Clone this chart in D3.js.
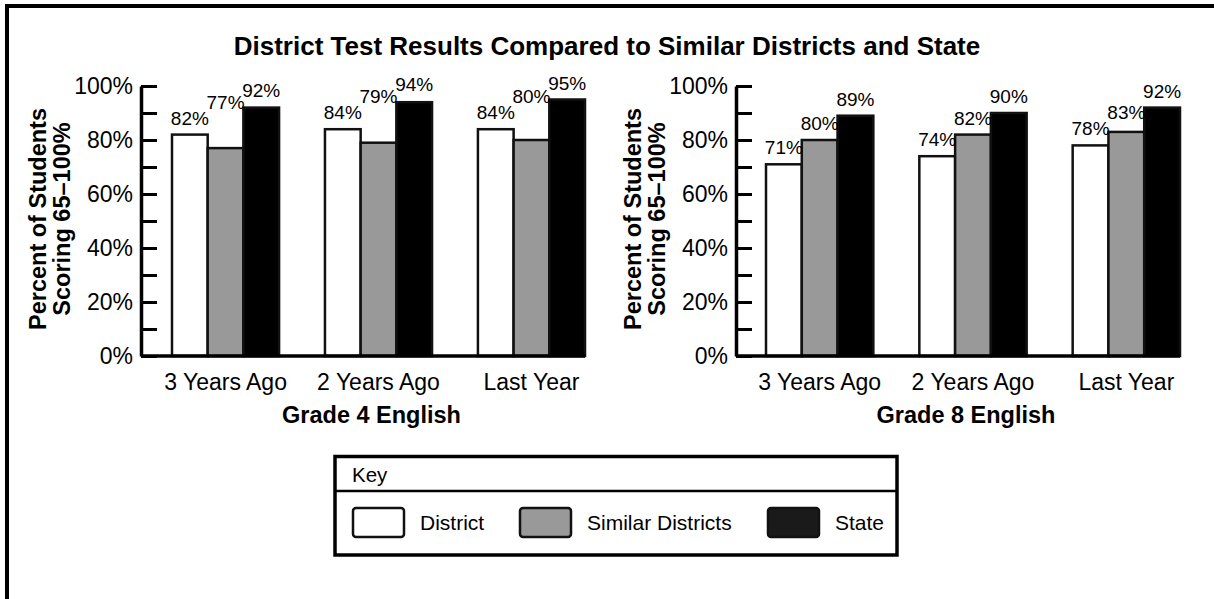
<!DOCTYPE html>
<html>
<head>
<meta charset="utf-8">
<script src="https://cdn.jsdelivr.net/npm/d3@7/dist/d3.min.js"></script>
<style>
  html, body { margin: 0; padding: 0; background: #fff; }
  svg { display: block; font-family: "Liberation Sans", Arial, Helvetica, sans-serif; }
</style>
</head>
<body>
<svg width="1214" height="599"></svg>
<script>
var categories = ["3 Years Ago", "2 Years Ago", "Last Year"];
var seriesNames = ["District", "Similar Districts", "State"];

var grade4District = [82, 84, 84];
var grade4Similar = [77, 79, 80];
var grade4State = [92, 94, 95];

var grade8District = [71, 74, 78];
var grade8Similar = [80, 82, 83];
var grade8State = [89, 90, 92];

var yTicks = [0, 10, 20, 30, 40, 50, 60, 70, 80, 90, 100];
var barFills = ["#ffffff", "#999999", "#000000"];
var keyFills = ["#ffffff", "#999999", "#1a1a1a"];

var svg = d3.select('svg');

svg.append('rect')
    .attr('width', 1214)
    .attr('height', 599)
    .attr('fill', '#fff');

// outer frame (top and left edges only are visible)
svg.append('path')
    .attr('d', 'M7,599V6H1214')
    .attr('fill', 'none')
    .attr('stroke', '#000')
    .attr('stroke-width', 4);

svg.append('text')
    .attr('x', 607)
    .attr('y', 55)
    .attr('text-anchor', 'middle')
    .attr('font-size', 26)
    .attr('font-weight', 'bold')
    .text('District Test Results Compared to Similar Districts and State');

var y = d3.scaleLinear().domain([0, 100]).range([356, 86]);

function drawPanel(p) {
    var g = svg.append('g');

    var x = d3.scaleBand()
        .domain(categories)
        .range([p.barStart, p.barEnd])
        .paddingInner(0.3)
        .paddingOuter(0);

    var xs = d3.scaleBand()
        .domain(seriesNames)
        .range([0, x.bandwidth()]);

    var rows = [];
    categories.forEach(function(c, i) {
        seriesNames.forEach(function(s, j) {
            rows.push({cat: c, ser: s, j: j, v: p.values[j][i]});
        });
    });

    g.selectAll('rect.bar')
        .data(rows)
        .join('rect')
        .attr('class', 'bar')
        .attr('x', d => x(d.cat) + xs(d.ser))
        .attr('y', d => y(d.v))
        .attr('width', xs.bandwidth())
        .attr('height', d => y(0) - y(d.v))
        .attr('fill', d => barFills[d.j])
        .attr('stroke', '#111')
        .attr('stroke-width', 2.5);

    // value labels, lifted when a neighbour's label sits too close
    var prev = {};
    rows.forEach(function(d) {
        var base = y(d.v) - 10;
        if (d.j > 0) base = Math.min(base, prev[d.cat] - (d.j === 1 ? 16 : 12));
        prev[d.cat] = base;
        d.ly = base;
    });

    g.selectAll('text.val')
        .data(rows)
        .join('text')
        .attr('class', 'val')
        .attr('x', d => x(d.cat) + xs(d.ser) + xs.bandwidth() / 2)
        .attr('y', d => d.ly)
        .attr('text-anchor', 'middle')
        .attr('font-size', 19)
        .text(d => d.v + '%');

    // y axis with inward ticks
    var yAxis = g.append('g')
        .attr('transform', 'translate(' + p.axisX + ',0)')
        .call(d3.axisLeft(y)
            .tickValues(yTicks)
            .tickSizeInner(-16)
            .tickSizeOuter(0)
            .tickPadding(8)
            .tickFormat(d => d % 20 === 0 ? d + '%' : ''));
    yAxis.select('.domain').attr('stroke', '#000').attr('stroke-width', 3.5);
    yAxis.selectAll('.tick line').attr('stroke', '#000').attr('stroke-width', 3);
    yAxis.selectAll('.tick text')
        .attr('font-size', 23)
        .attr('fill', '#000');
    yAxis.attr('font-family', null).attr('font-size', null);

    // baseline
    g.append('line')
        .attr('x1', p.axisX)
        .attr('x2', p.barEnd)
        .attr('y1', y(0))
        .attr('y2', y(0))
        .attr('stroke', '#000')
        .attr('stroke-width', 3.5);

    var xAxis = g.append('g')
        .attr('transform', 'translate(0,' + y(0) + ')')
        .call(d3.axisBottom(x).tickSize(0).tickPadding(0));
    xAxis.select('.domain').remove();
    xAxis.attr('font-family', null).attr('font-size', null);
    xAxis.selectAll('.tick text')
        .attr('y', 34)
        .attr('dy', 0)
        .attr('font-size', 23)
        .attr('fill', '#000');

    g.append('text')
        .attr('x', (p.barStart + p.barEnd) / 2 - 7)
        .attr('y', 423)
        .attr('text-anchor', 'middle')
        .attr('font-size', 23.5)
        .attr('font-weight', 'bold')
        .text(p.title);

    var yTitle = g.append('text')
        .attr('transform', 'translate(' + (p.axisX - 95) + ',219) rotate(-90)')
        .attr('text-anchor', 'middle')
        .attr('font-size', 23.5)
        .attr('font-weight', 'bold');
    yTitle.append('tspan').attr('x', 0).attr('y', 0).text('Percent of Students');
    yTitle.append('tspan').attr('x', 0).attr('y', 24).text('Scoring 65\u2013100%');
}

drawPanel({
    axisX: 141, barStart: 172, barEnd: 585,
    title: 'Grade 4 English',
    values: [grade4District, grade4Similar, grade4State]
});

drawPanel({
    axisX: 736, barStart: 766, barEnd: 1180,
    title: 'Grade 8 English',
    values: [grade8District, grade8Similar, grade8State]
});

// key
var key = svg.append('g');
key.append('rect')
    .attr('x', 335)
    .attr('y', 456.5)
    .attr('width', 562)
    .attr('height', 98.5)
    .attr('fill', '#fff')
    .attr('stroke', '#000')
    .attr('stroke-width', 3.5);
key.append('line')
    .attr('x1', 335).attr('x2', 897)
    .attr('y1', 491).attr('y2', 491)
    .attr('stroke', '#000')
    .attr('stroke-width', 2.5);
key.append('text')
    .attr('x', 352)
    .attr('y', 482)
    .attr('font-size', 20.5)
    .text('Key');

var keyX = d3.scaleOrdinal().domain(seriesNames).range([353, 520, 768]);

key.selectAll('rect.swatch')
    .data(seriesNames)
    .join('rect')
    .attr('class', 'swatch')
    .attr('x', d => keyX(d))
    .attr('y', 508)
    .attr('width', 51)
    .attr('height', 29)
    .attr('rx', 3)
    .attr('fill', (d, i) => keyFills[i])
    .attr('stroke', '#111')
    .attr('stroke-width', 2.5);

key.selectAll('text.item')
    .data(seriesNames)
    .join('text')
    .attr('class', 'item')
    .attr('x', d => keyX(d) + 67)
    .attr('y', 530)
    .attr('font-size', 21)
    .text(d => d);
</script>
</body>
</html>
